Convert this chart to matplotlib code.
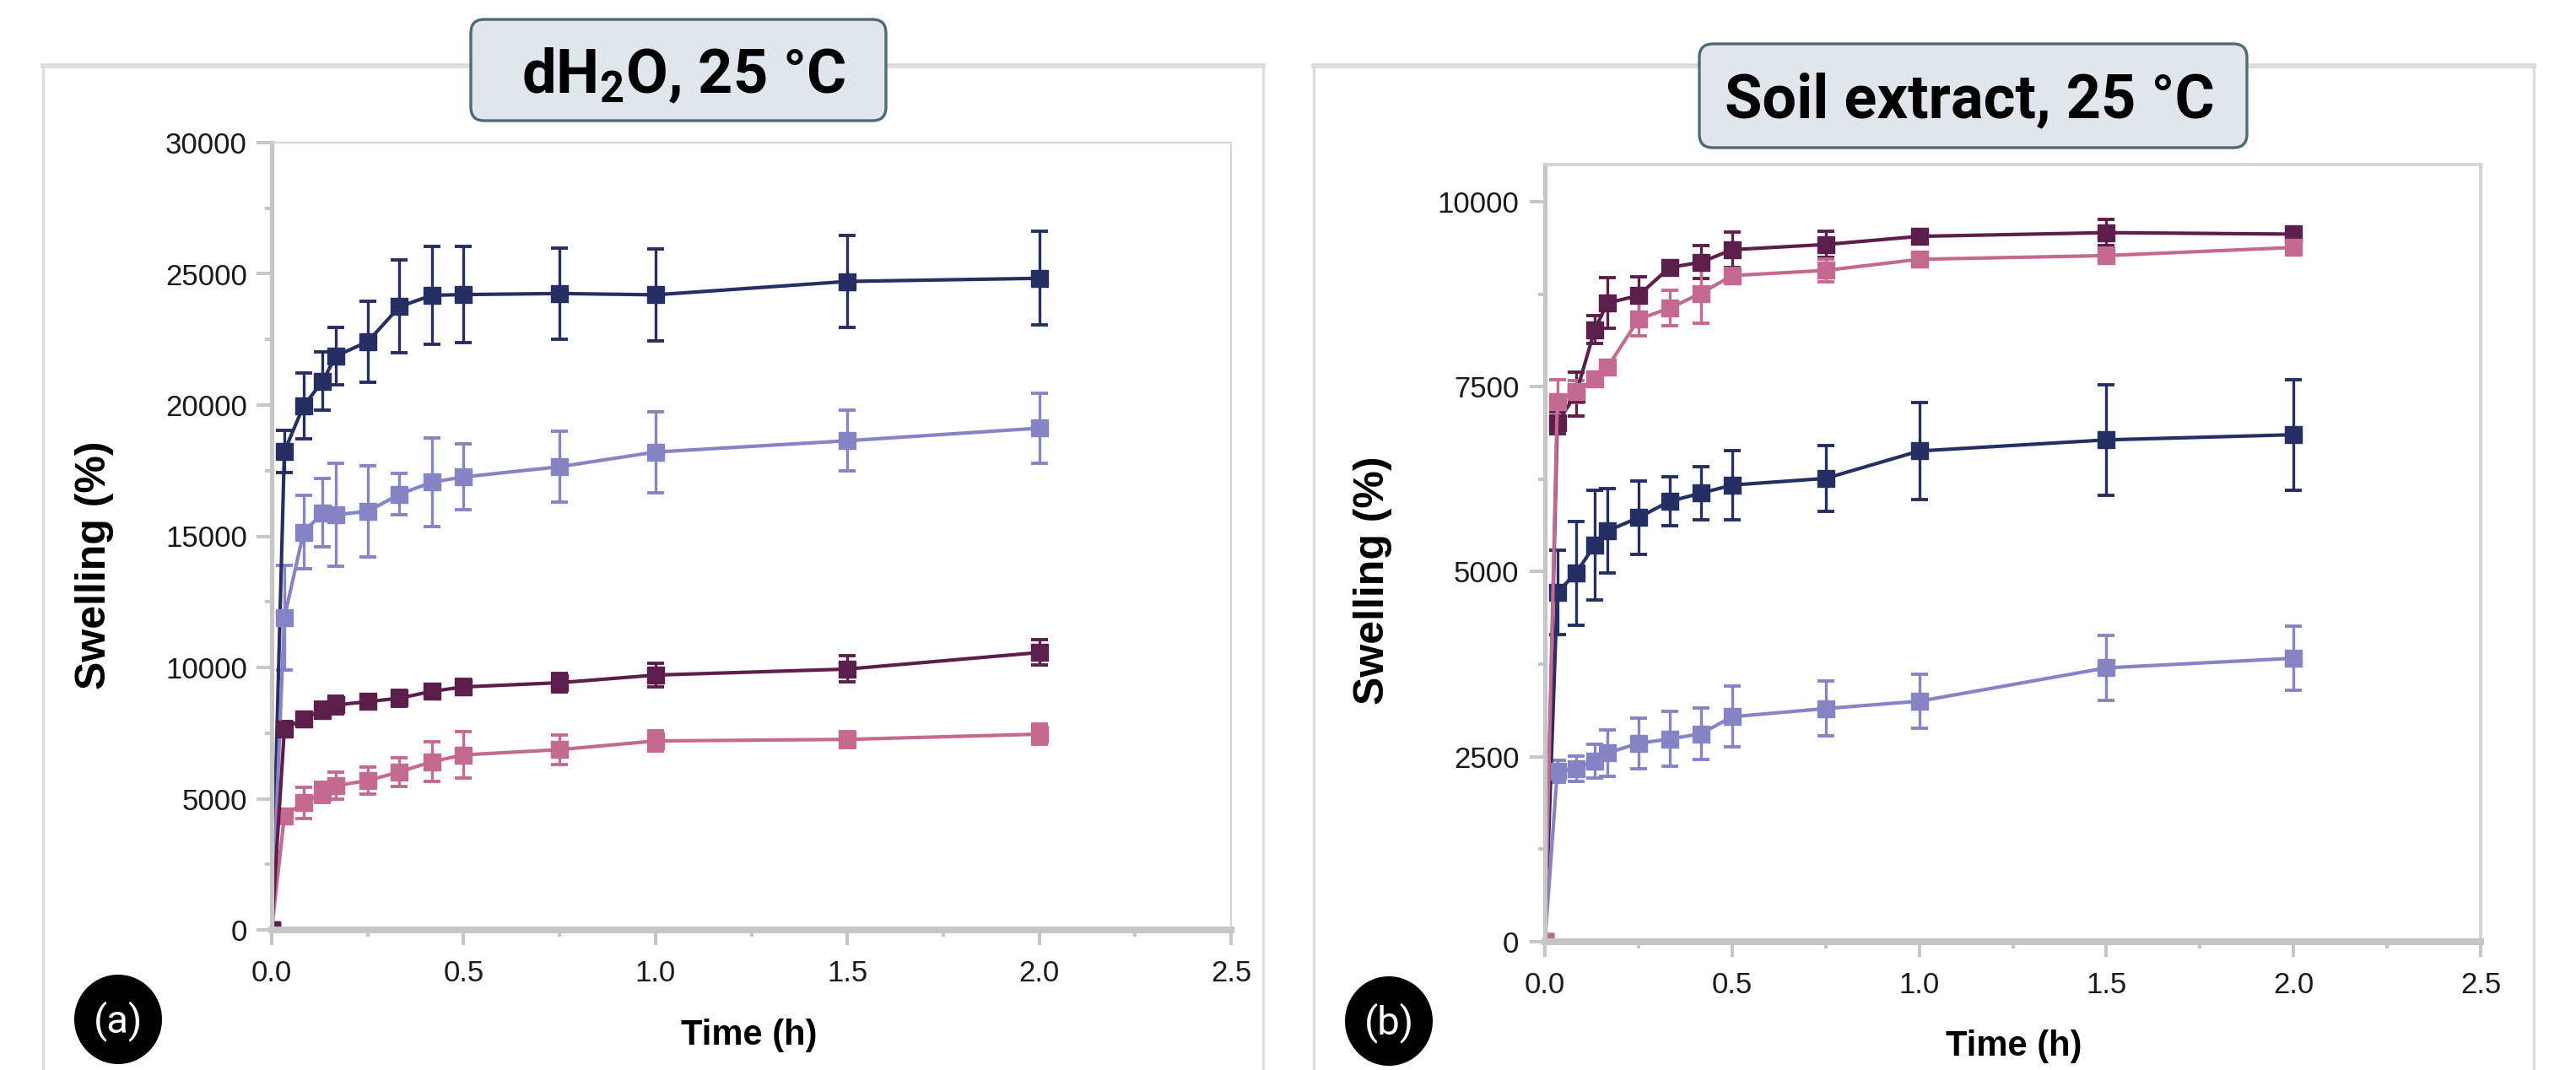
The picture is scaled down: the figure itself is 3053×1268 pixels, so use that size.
import numpy as np
import matplotlib
matplotlib.use('Agg')
import matplotlib.pyplot as plt
from matplotlib import font_manager as fm
from matplotlib.patches import FancyBboxPatch, Ellipse
from matplotlib.ticker import MultipleLocator

W, H = 3053, 1268

# sampling times (h)
t = [0, 0.033, 0.083, 0.133, 0.167, 0.25, 0.333, 0.417, 0.5, 0.75, 1.0, 1.5, 2.0]

# (a) dH2O, 25 C
navy_a = [0, 18230, 19970, 20910, 21870, 22410, 23750, 24180, 24210, 24250, 24200, 24710, 24830]
navy_a_err = [0, 800, 1260, 1100, 1100, 1530, 1770, 1850, 1820, 1730, 1745, 1740, 1780]
peri_a = [0, 11900, 15150, 15900, 15820, 15950, 16600, 17060, 17260, 17650, 18210, 18640, 19120]
peri_a_err = [0, 2000, 1400, 1300, 1950, 1735, 780, 1700, 1250, 1340, 1540, 1155, 1330]
plum_a = [0, 7650, 8050, 8370, 8570, 8700, 8830, 9090, 9260, 9420, 9710, 9940, 10570]
plum_a_err = [0, 300, 250, 300, 350, 250, 300, 250, 300, 350, 450, 500, 480]
pink_a = [0, 4350, 4840, 5240, 5500, 5690, 6020, 6410, 6670, 6870, 7200, 7260, 7460]
pink_a_err = [0, 250, 600, 400, 510, 520, 550, 750, 890, 560, 390, 310, 390]

# (b) soil extract, 25 C
navy_b = [0, 4720, 4980, 5360, 5550, 5730, 5950, 6060, 6170, 6260, 6630, 6780, 6850]
navy_b_err = [0, 570, 700, 740, 570, 500, 330, 360, 470, 440, 660, 750, 745]
peri_b = [0, 2300, 2340, 2440, 2550, 2680, 2740, 2810, 3040, 3150, 3250, 3700, 3830]
peri_b_err = [0, 150, 170, 230, 310, 340, 370, 350, 410, 370, 360, 440, 430]
plum_b = [0, 7010, 7400, 8270, 8630, 8730, 9110, 9180, 9350, 9420, 9530, 9580, 9560]
plum_b_err = [0, 150, 300, 190, 340, 250, 50, 220, 240, 175, 80, 175, 80]
pink_b = [0, 7300, 7430, 7600, 7760, 8410, 8560, 8760, 9000, 9070, 9220, 9270, 9380]
pink_b_err = [0, 290, 150, 100, 100, 220, 240, 400, 100, 150, 80, 100, 100]

c_navy = '#262f63'
c_peri = '#8784c5'
c_plum = '#5c1f4b'
c_pink = '#c4698f'
c_axis = '#c6c6c6'
c_frame = '#dedede'

names = {f.name for f in fm.fontManager.ttflist}
narrow = 'Liberation Sans Narrow' if 'Liberation Sans Narrow' in names else None
tick_font = dict(family=narrow, size=28) if narrow else dict(family='Liberation Sans', size=25)
ylab_font = dict(family=narrow, size=40) if narrow else dict(family='Liberation Sans', size=36)

plt.rcParams['mathtext.fontset'] = 'custom'
plt.rcParams['mathtext.rm'] = 'Roboto:bold'
plt.rcParams['mathtext.it'] = 'Roboto:bold'

fig = plt.figure(figsize=(W / 100, H / 100), dpi=100)

# overlay in pixel units for frames, boxes and labels
ov = fig.add_axes([0, 0, 1, 1], zorder=0)
ov.set_xlim(0, W)
ov.set_ylim(H, 0)
ov.axis('off')


def frac(x0, y0, x1, y1):
    return [x0 / W, 1 - y1 / H, (x1 - x0) / W, (y1 - y0) / H]


def panel(rect, ymax, ymaj, series, xpad, ypad, top_lw):
    ax = fig.add_axes(rect, zorder=2)
    for y, e, c in series:
        ax.errorbar(t, y, yerr=e, fmt='s-', color=c, ms=14, lw=3,
                    elinewidth=2.4, capsize=7.5, capthick=2.8)
    ax.set_xlim(0, 2.5)
    ax.set_ylim(0, ymax)
    ax.xaxis.set_minor_locator(MultipleLocator(0.25))
    ax.yaxis.set_minor_locator(MultipleLocator(ymaj / 2))
    xt = np.arange(0, 2.51, 0.5)
    ax.set_xticks(xt)
    ax.set_xticklabels(['%.1f' % v for v in xt], **tick_font)
    yt = np.arange(0, ymax + 1, ymaj)
    ax.set_yticks(yt)
    ax.set_yticklabels(['%d' % v for v in yt], **tick_font)
    ax.spines['left'].set_color(c_axis)
    ax.spines['left'].set_linewidth(3.8)
    ax.spines['bottom'].set_color(c_axis)
    ax.spines['bottom'].set_linewidth(5.8)
    for s in ['top', 'right']:
        ax.spines[s].set_color('#d4d4d4')
        ax.spines[s].set_linewidth(top_lw)
    ax.tick_params(which='major', length=13, width=2.9, color=c_axis, labelcolor='#1a1a1a')
    ax.tick_params(which='minor', length=6, width=2.9, color=c_axis)
    ax.tick_params(axis='x', which='major', pad=xpad)
    ax.tick_params(axis='y', which='major', pad=ypad)
    return ax


panel(frac(322, 169, 1459, 1102), 30000, 5000,
      [(navy_a, navy_a_err, c_navy), (peri_a, peri_a_err, c_peri),
       (pink_a, pink_a_err, c_pink), (plum_a, plum_a_err, c_plum)], 12, 8, 1.5)
panel(frac(1831, 195, 2940, 1116), 10500, 2500,
      [(navy_b, navy_b_err, c_navy), (peri_b, peri_b_err, c_peri),
       (plum_b, plum_b_err, c_plum), (pink_b, pink_b_err, c_pink)], 12, 9, 2.8)

# outer panel frames
for x0, x1 in [(51, 1497), (1557, 3003)]:
    ov.plot([x0, x0], [H + 5, 78], color=c_frame, lw=2.4, solid_capstyle='butt')
    ov.plot([x1, x1], [H + 5, 78], color=c_frame, lw=2.4, solid_capstyle='butt')
    ov.plot([x0, x1], [78, 78], color=c_frame, lw=4.3, solid_capstyle='projecting')

# title boxes
boxes = [((558, 23, 1050, 143), 810, 110, r'dH$_2$O, 25 °C'),
         ((2014, 52, 2663, 175), 2334, 139, 'Soil extract, 25 °C')]
for (x0, y0, x1, y1), tx, ty, s in boxes:
    ov.add_patch(FancyBboxPatch((x0, y0), x1 - x0, y1 - y0,
                                boxstyle='round,pad=0,rounding_size=16',
                                fc='#e1e5ec', ec='#4e6a73', lw=2.4, zorder=5))
    ov.text(tx, ty, s, family='Roboto', weight='bold', size=52, ha='center',
            va='baseline', zorder=6)

# axis labels
ov.text(888, 1227, 'Time (h)', family='Liberation Sans', weight='bold', size=30,
        ha='center', va='center')
ov.text(2387, 1240, 'Time (h)', family='Liberation Sans', weight='bold', size=30,
        ha='center', va='center')
ov.text(112, 670, 'Swelling (%)', weight='bold', rotation=90, ha='center',
        va='center', **ylab_font)
ov.text(1627, 688, 'Swelling (%)', weight='bold', rotation=90, ha='center',
        va='center', **ylab_font)

# panel letters
for cx, cy, s in [(140, 1208, '(a)'), (1646, 1210, '(b)')]:
    ov.add_patch(Ellipse((cx, cy), 104, 106, fc='black', ec='none'))
    ov.text(cx, cy + 2, s, color='white', family='Roboto', size=34,
            ha='center', va='center')

fig.savefig('out.png', dpi=100, facecolor='white')
